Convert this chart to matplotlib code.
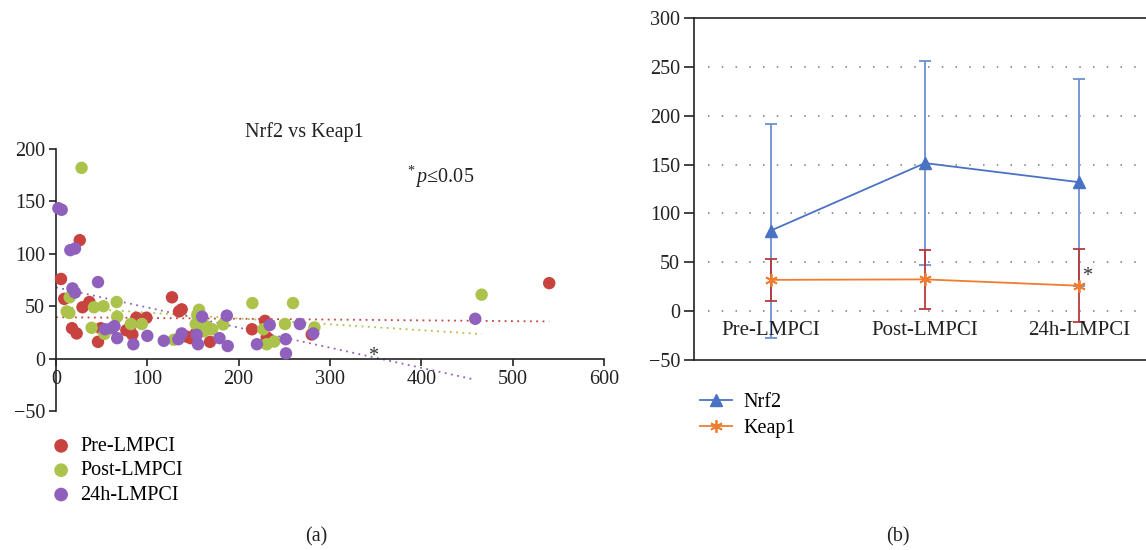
import matplotlib
matplotlib.use("Agg")
import matplotlib.pyplot as plt
import numpy as np

plt.rcParams['font.family'] = ['Liberation Serif', 'DejaVu Serif']
plt.rcParams['mathtext.fontset'] = 'custom'
plt.rcParams['mathtext.it'] = 'Liberation Serif:italic'
plt.rcParams['mathtext.rm'] = 'Liberation Serif'
FS = 14.5

# ---------------- data: panel (a) scatter ----------------
groups = ["Pre-LMPCI", "Post-LMPCI", "24h-LMPCI"]
pre_x = [5.5, 26, 9, 29, 36.5, 17.5, 22.6, 46, 49, 88, 99, 77, 83.6, 82, 127, 137.6, 134.7,
         143, 147.4, 153, 168.6, 214.6, 228.8, 230.7, 280, 540]
pre_y = [76, 113, 57, 49, 54, 29, 24, 16, 29, 39, 39, 27, 23, 32, 58.5, 47, 45,
         21, 19.5, 24, 16, 28, 36, 20.4, 23, 72]
post_x = [28, 15, 11.7, 14.6, 41.6, 52, 66.4, 67, 39, 53, 82, 94, 129, 153, 156.6, 154.7,
          162, 165, 171, 183, 215, 227, 230.7, 239, 250.7, 259.5, 283, 466]
post_y = [182, 58.5, 45, 43.5, 49, 50, 54, 40, 29.4, 23.6, 33, 33, 18, 33, 46.6, 42,
          26, 30.7, 28, 32.6, 53, 28, 13.7, 16.3, 33, 53, 29.7, 61]
h24_x = [2.6, 6.2, 15.7, 20.8, 18, 20.8, 46, 53.6, 61, 64, 67, 84.7, 100, 118, 134, 137.6,
         154, 155.5, 160, 179, 187, 188, 220, 234, 251.5, 251.8, 267, 281.7, 459]
h24_y = [143.5, 142, 103.5, 105, 67, 63, 73, 28, 29, 31, 19.5, 13.7, 21.7, 17, 18.5, 24,
         22.7, 13.7, 40, 19.5, 41, 12, 13.7, 32, 18.5, 5, 33, 24, 38]
# trend lines: (intercept, slope, x_start, x_end)
trend_pre = (39.5, -0.0075, 0, 540)
trend_post = (49.5, -0.056, 10, 466)
trend_24h = (68.0, -0.192, 0, 459)
xticks_a = [0, 100, 200, 300, 400, 500, 600]
yticks_a = [-50, 0, 50, 100, 150, 200]

# ---------------- data: panel (b) line chart ----------------
categories = ["Pre-LMPCI", "Post-LMPCI", "24h-LMPCI"]
nrf2_mean = [82.5, 151.5, 132]
nrf2_sd = [109.5, 104, 106]
keap1_mean = [32, 32.5, 26]
keap1_sd = [21.5, 30, 37.5]
yticks_b = [-50, 0, 50, 100, 150, 200, 250, 300]
grid_b = [0, 50, 100, 150, 200, 250]

c_pre, c_post, c_24 = '#c8433f', '#abc34b', '#9060bd'
c_nrf2, c_nrf2_err = '#4a72c4', '#6d8fd3'
c_keap1, c_keap1_err = '#ef7d31', '#b53a3e'

W, H = 1146, 550
fig = plt.figure(figsize=(W / 100, H / 100), dpi=100)

# ---------- panel (a) ----------
axa = fig.add_axes([56 / W, 1 - 411 / H, (604 - 56) / W, (411 - 149) / H])
axa.set_xlim(0, 600)
axa.set_ylim(-50, 200)
for s in ['top', 'right']:
    axa.spines[s].set_visible(False)
axa.spines['bottom'].set_position(('data', 0))
for s in ['left', 'bottom']:
    axa.spines[s].set_linewidth(1.2)
    axa.spines[s].set_color('#222222')
axa.set_xticks(xticks_a)
axa.set_yticks(yticks_a)
axa.set_yticklabels(['\u221250' if v < 0 else str(v) for v in yticks_a])
axa.tick_params(axis='both', direction='out', length=5, width=1.2, labelsize=FS,
                colors='#222222', pad=3)
axa.patch.set_alpha(0)

for (a, b, x0, x1), col in [(trend_pre, c_pre), (trend_post, c_post), (trend_24h, c_24)]:
    xs = np.array([x0, x1])
    axa.plot(xs, a + b * xs, color=col, lw=1.3, ls=(0, (1, 2.5)), clip_on=False, zorder=2)

for xs, ys, col, lab in [(pre_x, pre_y, c_pre, groups[0]), (post_x, post_y, c_post, groups[1]),
                         (h24_x, h24_y, c_24, groups[2])]:
    axa.scatter(xs, ys, s=80, color=col, edgecolors='none', label=lab, clip_on=False, zorder=3)

axa.text(347, -7.5, '*', fontsize=FS, ha='center', va='bottom', color='#333333')
axa.text(272, 216, 'Nrf2 vs Keap1', fontsize=FS, ha='center', va='center', color='#222222')
axa.text(420, 173, r'$^*\mathit{p}$' + '\u22640.05', fontsize=FS, ha='center', va='center',
         color='#222222')

fig.legend(*axa.get_legend_handles_labels(), loc='upper left',
           bbox_to_anchor=(45 / W, 1 - 429 / H), frameon=False, fontsize=FS,
           handlelength=0.8, handletextpad=0.55, labelspacing=0.26, borderaxespad=0,
           markerscale=1.1)

# ---------- panel (b) ----------
axb = fig.add_axes([694 / W, 1 - 360 / H, (1156 - 694) / W, (360 - 18) / H])
xpos = np.arange(len(categories))
axb.set_xlim(-0.5, 2.5)
axb.set_ylim(-50, 300)
axb.set_xticks([])
axb.set_yticks(yticks_b)
axb.set_yticklabels(['\u221250' if v < 0 else str(v) for v in yticks_b])
axb.tick_params(axis='y', direction='out', length=7, width=1.2, labelsize=FS,
                colors='#222222', pad=3)
for s in axb.spines.values():
    s.set_linewidth(1.2)
    s.set_color('#222222')
for g in grid_b:
    axb.axhline(g, xmin=0.03, xmax=1, color='#777777', lw=1.1, ls=(0, (1, 8)), zorder=1)

axb.errorbar(xpos, nrf2_mean, yerr=nrf2_sd, fmt='none', ecolor=c_nrf2_err, elinewidth=1.3,
             capsize=4, capthick=1.3, zorder=2)
axb.errorbar(xpos, keap1_mean, yerr=keap1_sd, fmt='none', ecolor=c_keap1_err, elinewidth=1.3,
             capsize=4, capthick=1.3, zorder=3)
axb.plot(xpos, nrf2_mean, color=c_nrf2, lw=1.3, marker='^', markersize=8,
         label='Nrf2', zorder=4)
axb.plot(xpos, keap1_mean, color=c_keap1, lw=1.3, marker=(6, 2, 0), markersize=9,
         markeredgewidth=1.3, label='Keap1', zorder=4)
for i, c in enumerate(categories):
    axb.text(xpos[i], -20, c, fontsize=FS + 0.5, ha='center', va='center', color='#222222',
             zorder=5)
axb.text(xpos[2] + 0.05, 35, '*', fontsize=FS, ha='center', va='center', color='#333333')

fig.legend(*axb.get_legend_handles_labels(), loc='upper left',
           bbox_to_anchor=(692 / W, 1 - 385 / H), frameon=False, fontsize=FS,
           handlelength=1.6, handletextpad=0.55, labelspacing=0.32, borderaxespad=0)

fig.text(316 / W, 1 - 537 / H, '(a)', fontsize=FS, ha='center', va='center', color='#222222')
fig.text(898 / W, 1 - 537 / H, '(b)', fontsize=FS, ha='center', va='center', color='#222222')

fig.savefig('out.png', dpi=100)
